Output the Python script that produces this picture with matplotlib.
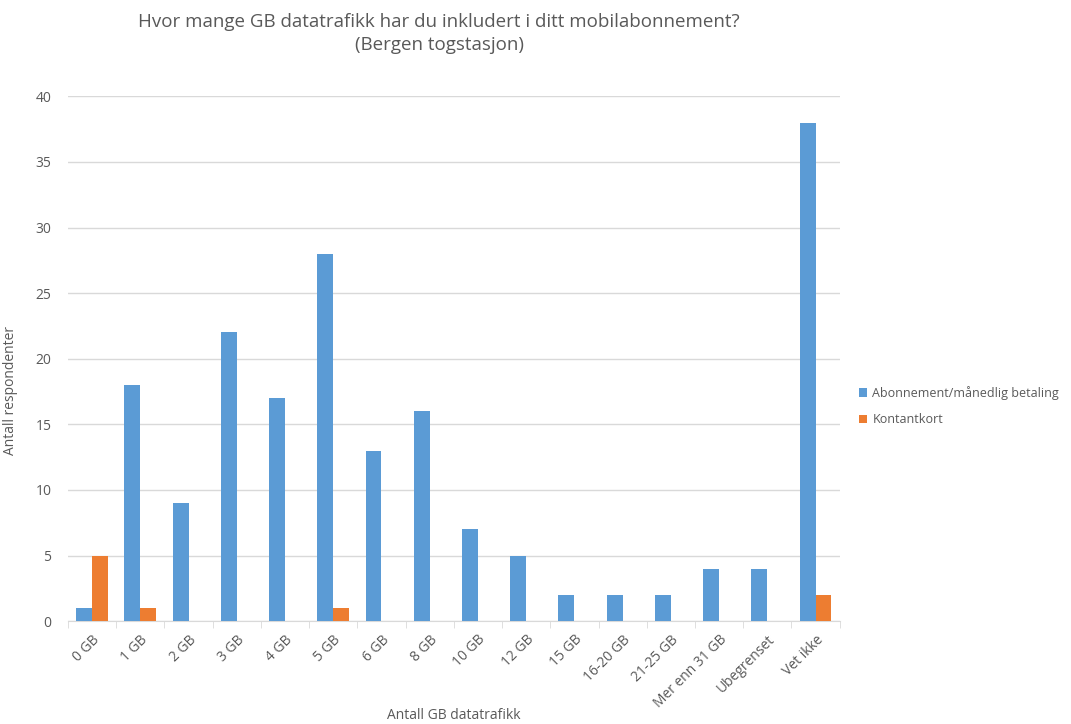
import numpy as np
import matplotlib.pyplot as plt

plt.rcParams['font.family'] = ['Open Sans', 'DejaVu Sans']

categories = ['0 GB', '1 GB', '2 GB', '3 GB', '4 GB', '5 GB', '6 GB', '8 GB',
              '10 GB', '12 GB', '15 GB', '16-20 GB', '21-25 GB', 'Mer enn 31 GB',
              'Ubegrenset', 'Vet ikke']
abonnement = [1, 18, 9, 22, 17, 28, 13, 16, 7, 5, 2, 2, 2, 4, 4, 38]
kontantkort = [5, 1, 0, 0, 0, 1, 0, 0, 0, 0, 0, 0, 0, 0, 0, 2]

grey = '#595959'
fig = plt.figure(figsize=(10.71, 7.24), dpi=100)
ax = fig.add_axes([0.0635, 0.142, 0.7205, 0.725])

x = np.arange(len(categories))
w = 0.33
ax.bar(x - w / 2, abonnement, w, color='#5b9bd5', label='Abonnement/månedlig betaling', zorder=3)
ax.bar(x + w / 2, kontantkort, w, color='#ed7d31', label='Kontantkort', zorder=3)

ax.set_xlim(-0.5, len(categories) - 0.5)
ax.set_ylim(0, 40)
ax.set_yticks(range(0, 41, 5))
ax.yaxis.grid(True, color='#d9d9d9', linewidth=1, zorder=0)
for s in ['top', 'right', 'left']:
    ax.spines[s].set_visible(False)
ax.spines['bottom'].set_color('#d9d9d9')
ax.tick_params(axis='y', length=0, colors=grey, labelsize=10, pad=12)

ax.set_xticks(x)
ax.set_xticklabels(categories, rotation=45, ha='right', rotation_mode='anchor')
ax.tick_params(axis='x', length=0, colors=grey, labelsize=10, pad=8)
ax.set_xticks(np.arange(-0.5, len(categories)), minor=True)
ax.tick_params(axis='x', which='minor', length=5, color='#d9d9d9')

ax.set_ylabel('Antall respondenter', color=grey, fontsize=10)
ax.yaxis.set_label_coords(-0.065, 0.44)
ax.set_xlabel('Antall GB datatrafikk', color=grey, fontsize=10)
ax.xaxis.set_label_coords(0.5, -0.165)

fig.text(0.41, 0.982, 'Hvor mange GB datatrafikk har du inkludert i ditt mobilabonnement?\n(Bergen togstasjon)',
         ha='center', va='top', fontsize=13.5, color=grey, linespacing=1.35)

ax.legend(loc='center left', bbox_to_anchor=(1.015, 0.41), frameon=False, fontsize=9,
          labelcolor=grey, handlelength=0.7, handleheight=0.7, handletextpad=0.4,
          labelspacing=1.1, borderaxespad=0.2)

fig.savefig('out.png', dpi=100)
